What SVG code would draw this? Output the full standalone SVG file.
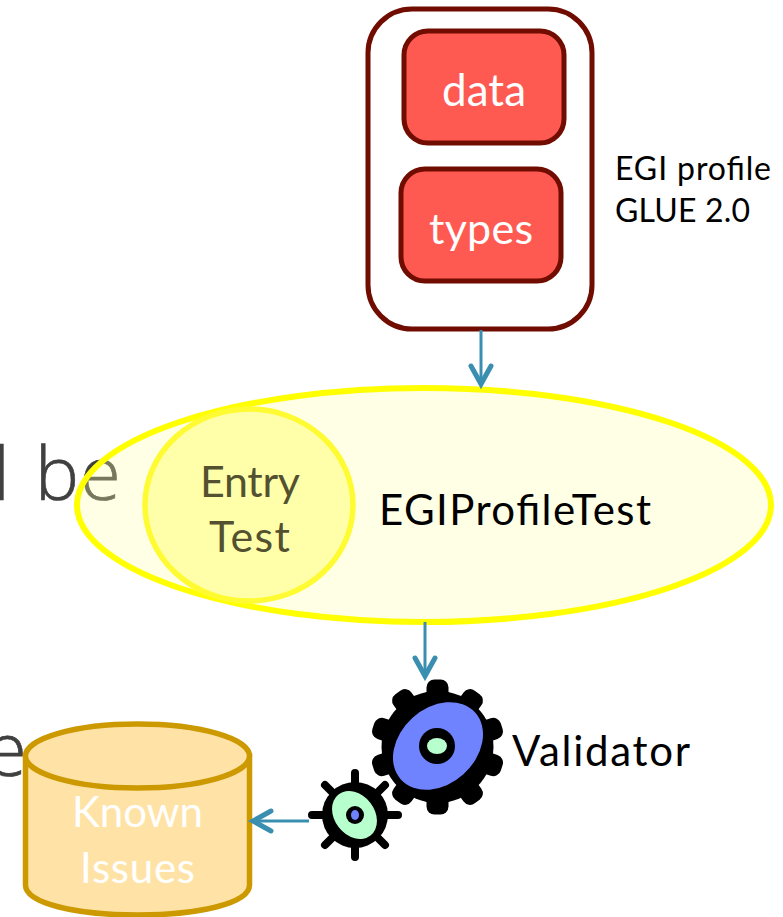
<svg xmlns="http://www.w3.org/2000/svg" width="783" height="917" viewBox="0 0 783 917">
<style>
.lato{font-family:"Lato","Carlito","Liberation Sans",sans-serif}
.bg{font-family:"Open Sans","Liberation Sans",sans-serif;font-weight:300;font-size:74px;fill:#404040;stroke:#404040;stroke-width:0.7}
.inner{fill:#FF5A52;stroke:#700C00;stroke-width:5}
.wht{fill:#fff}
.conn{fill:none;stroke:#3A8FB0;stroke-width:3}
.head{fill:none;stroke:#3A8FB0;stroke-width:5;stroke-linecap:round;stroke-linejoin:miter}
.spoke{stroke:#000;stroke-linecap:round}
</style>
<defs>
<rect id="tooth" x="-11" y="-67.500" width="22" height="30" rx="8" fill="#000"/>
</defs>
<text class="bg" x="-7 0 35 80" y="500">l be</text>
<text class="bg" x="-14" y="776">e</text>
<g id="profile">
<rect x="368" y="9" width="224" height="320" rx="44" fill="#fff" stroke="#700C00" stroke-width="5"/>
<g id="data"><rect class="inner" x="404" y="31" width="160" height="112" rx="24"/><text class="lato wht" x="442" y="106" font-size="44" textLength="84">data</text></g>
<g id="types"><rect class="inner" x="401" y="169" width="160" height="112" rx="24"/><text class="lato wht" x="429" y="244" font-size="43" textLength="104">types</text></g>
</g>
<g id="profile-label" class="lato" font-size="32" fill="#000"><text x="615" y="180" textLength="156">EGI profile</text><text x="615" y="222" textLength="135">GLUE 2.0</text></g>
<g id="egi-profile-test">
<ellipse cx="424" cy="505" rx="347" ry="117" fill="#FFFFA9" fill-opacity="0.29" stroke="#FFFF00" stroke-width="6"/>
<ellipse cx="249" cy="505" rx="104" ry="96" fill="#FFFFA6" fill-opacity="0.95" stroke="#FFFB33" stroke-width="5.500"/>
<text class="lato" x="379" y="525" font-size="42" fill="#000" textLength="272">EGIProfileTest</text>
<g id="entry-test" class="lato" font-size="43" fill="#53512F"><text x="200" y="497" textLength="100">Entry</text><text x="209" y="552" textLength="81">Test</text></g>
</g>
<g id="validator">
<g transform="translate(437.500 747)">
<use href="#tooth"/><use href="#tooth" transform="rotate(36)"/><use href="#tooth" transform="rotate(72)"/><use href="#tooth" transform="rotate(108)"/><use href="#tooth" transform="rotate(144)"/><use href="#tooth" transform="rotate(180)"/><use href="#tooth" transform="rotate(216)"/><use href="#tooth" transform="rotate(252)"/><use href="#tooth" transform="rotate(288)"/><use href="#tooth" transform="rotate(324)"/>
</g>
<circle cx="437.500" cy="747" r="56" fill="#000"/>
<ellipse cx="438" cy="746" rx="50" ry="38" transform="rotate(-42 438 746)" fill="#6F83FF"/>
<circle cx="437" cy="746" r="18" fill="#000"/>
<ellipse cx="437" cy="746" rx="10" ry="8" fill="#B8FFCE"/>
<text class="lato" x="512" y="766" font-size="42" fill="#000" textLength="178">Validator</text>
</g>
<g id="small-gear">
<path class="spoke" stroke-width="8" d="M355 773V857M312 815H398M325 785L385 845M385 785L325 845"/>
<circle cx="355" cy="815" r="33" fill="#000"/>
<ellipse cx="354.500" cy="815" rx="26" ry="20" transform="rotate(52 354.500 815)" fill="#B8FFCE"/>
<circle cx="355" cy="815" r="9" fill="#000"/>
<ellipse cx="355" cy="815" rx="4" ry="5" fill="#6F83FF"/>
</g>
<g id="known-issues">
<path d="M25.500 756V885C25.500 903 75 915 137.500 915S249.500 903 249.500 885V756Z" fill="#FFE3A6" stroke="#CC9900" stroke-width="5.500"/>
<ellipse cx="137.500" cy="756" rx="112" ry="32" fill="#FFE3A6" stroke="#CC9900" stroke-width="5.500"/>
<g class="lato wht" font-size="42"><text x="72" y="827" textLength="131">Known</text><text x="80" y="883" textLength="115">Issues</text></g>
</g>
<g id="connectors">
<path class="conn" d="M481 330V384"/><path class="head" d="M471 366L481 384L491 366"/>
<path class="conn" d="M425 622V676"/><path class="head" d="M415 658L425 676L435 658"/>
<path class="conn" d="M309 821H253"/><path class="head" d="M271 811L253 821L271 831"/>
</g>
</svg>
